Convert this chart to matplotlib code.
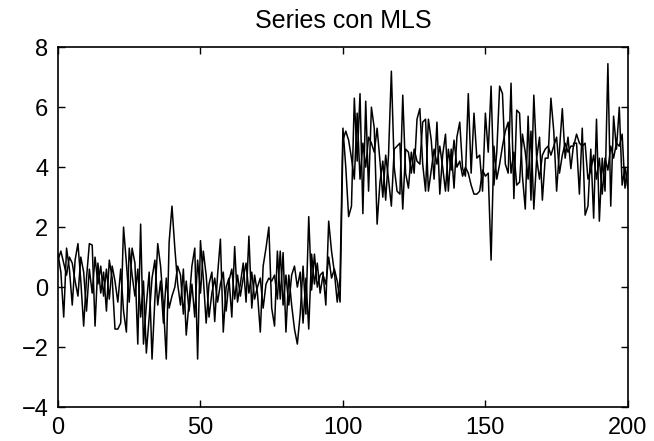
import numpy as np
import matplotlib.pyplot as plt

plt.rcParams["font.family"] = ["Liberation Sans", "DejaVu Sans"]

# two series, one value per sample (x = 0..200)
serie_a = [
    1.1, 0.5, -1.0, 1.3, 0.6, -0.6, 0.9, 1.45, 0.2, -1.3,
    0.3, 1.45, 1.4, -1.3, 0.8, -0.2, 0.5, -0.8, 0.9, 0.3,
    -1.4, -1.4, -1.2, 2.0, 0.8, -0.5, 1.3, 0.8, -1.9, 2.1,
    -1.9, -0.6, 0.5, -2.4, -0.4, 1.45, 0.7, -0.6, -2.4, 1.5,
    2.7, 1.3, 0.1, -0.6, 0.6, -1.6, -0.5, 0.7, 1.3, -2.4,
    1.55, 0.3, -1.2, 0.1, 0.5, -1.15, 0.4, 1.6, -1.5, 0.0,
    0.3, -1.0, 1.35, -0.5, 0.1, 0.8, -0.5, 1.7, -0.7, 0.4,
    -0.2, -1.5, 0.7, 1.3, 2.0, -0.7, -1.3, 1.2, -0.4, 1.15,
    -1.5, 0.4, -0.6, -1.4, -1.9, -0.9, 0.7, -0.9, 2.35, -0.1,
    1.1, 0.0, 0.4, 0.5, -0.6, 2.2, 1.2, 0.5, -0.5, 0.3,
    5.3, 4.0, 2.35, 2.7, 6.3, 4.2, 6.45, 2.45, 6.2, 3.2,
    6.0, 5.3, 2.1, 3.5, 4.2, 2.9, 4.4, 7.2, 4.0, 3.2,
    3.1, 6.4, 3.8, 3.3, 4.5, 3.8, 5.6, 5.95, 4.1, 3.2,
    5.6, 4.9, 3.6, 5.5, 3.1, 4.4, 5.1, 3.2, 4.6, 3.3,
    5.0, 5.5, 3.95, 3.7, 6.45, 3.8, 5.8, 4.3, 4.4, 3.2,
    5.8, 4.5, 6.7, 3.4, 4.5, 6.7, 6.45, 4.1, 3.8, 6.8,
    2.95, 5.9, 5.8, 3.7, 2.6, 5.7, 2.9, 6.4, 4.3, 5.0,
    2.9, 4.3, 4.3, 6.3, 5.2, 3.2, 4.6, 5.95, 4.3, 5.0,
    3.95, 4.8, 4.8, 3.1, 5.3, 2.4, 2.7, 4.6, 2.3, 5.6,
    2.2, 4.3, 3.2, 7.45, 2.7, 5.7, 4.6, 6.0, 3.4, 4.0,
    3.3,
]
serie_b = [
    0.9, 1.2, 0.8, 0.4, 1.0, 0.8, 0.2, -0.3, 1.0, 0.5,
    -0.8, 0.6, -0.2, 1.0, 0.1, 0.7, -0.3, 0.6, -0.4, 0.7,
    0.2, -0.5, 0.6, -0.8, -1.5, 1.3, 0.4, -0.3, 0.6, -1.0,
    0.2, -2.2, -1.0, 0.3, 0.9, -0.6, 0.2, -1.2, 0.3, -0.7,
    -0.3, 0.0, 0.7, 0.4, -0.9, 0.2, -0.8, 0.1, -1.0, 0.9,
    -0.2, 1.2, 0.4, -1.0, -0.2, 0.3, -0.5, 0.1, 0.5, -0.8,
    0.2, 0.6, -0.4, 0.4, -0.3, 0.3, 0.8, -0.2, 0.5, -0.4,
    0.0, 0.3, -0.7, 0.1, 0.3, 0.2, 0.4, -0.4, 1.2, -0.6,
    0.4, -0.6, 0.4, 0.7, 0.0, 0.5, -1.2, 0.3, -1.4, 1.1,
    0.1, 0.8, -0.2, 0.4, 0.1, 1.0, 0.3, 0.6, 0.2, -0.5,
    4.9, 5.2, 4.9, 4.3, 3.6, 5.8, 3.6, 4.8, 4.0, 5.0,
    4.8, 4.5, 5.3, 4.2, 3.0, 4.4, 3.6, 2.7, 4.6, 4.7,
    4.8, 2.6, 4.6, 4.5, 3.8, 4.6, 4.2, 4.1, 5.5, 5.6,
    3.2, 3.9, 4.6, 4.1, 4.7, 4.0, 3.2, 4.6, 3.9, 4.9,
    4.0, 4.2, 3.7, 4.0, 3.8, 3.4, 3.1, 3.1, 3.2, 3.9,
    3.7, 3.8, 0.9, 4.7, 3.6, 4.1, 4.7, 5.2, 5.5, 3.8,
    4.5, 3.4, 3.5, 5.1, 4.5, 3.6, 5.2, 2.6, 4.3, 3.6,
    4.4, 4.6, 4.7, 4.4, 4.7, 5.0, 3.8, 4.4, 4.8, 4.5,
    4.7, 4.7, 5.1, 4.8, 4.7, 4.8, 3.6, 3.9, 4.4, 3.6,
    4.3, 3.1, 4.3, 3.9, 4.7, 4.3, 4.8, 4.7, 5.1, 3.3,
    4.0,
]
x = np.arange(len(serie_a))

fig = plt.figure(figsize=(6.54, 4.41), dpi=100)
ax = fig.add_axes([0.0887, 0.077, 0.8713, 0.816])

ax.plot(x, serie_a, color="black", lw=1.1)
ax.plot(x, serie_b, color="black", lw=1.1)

ax.set_xlim(0, 200)
ax.set_ylim(-4, 8)
ax.set_xticks([0, 50, 100, 150, 200])
ax.set_yticks([-4, -2, 0, 2, 4, 6, 8])
ax.set_yticklabels(["\u22124", "\u22122", "0", "2", "4", "6", "8"])
ax.tick_params(direction="in", top=True, right=True, length=5, width=1,
               labelsize=17, pad=7)
for s in ax.spines.values():
    s.set_linewidth(1.2)
ax.set_title("Series con MLS", fontsize=18, pad=14)

fig.savefig("out.png", dpi=100)
